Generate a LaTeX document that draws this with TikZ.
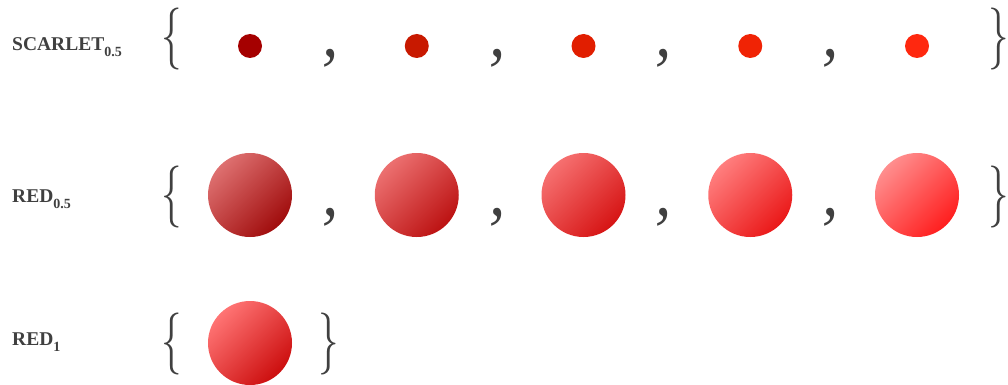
\documentclass[tikz,border=0pt]{standalone}
\usepackage{fontspec}
\usepackage{tikz}
\usetikzlibrary{positioning}
\newfontfamily\labelfont{Liberation Serif}
\definecolor{ink}{RGB}{64,64,64}
% small scarlet dots
\definecolor{scarA}{RGB}{165,0,0}
\definecolor{scarB}{RGB}{200,25,0}
\definecolor{scarC}{RGB}{225,30,0}
\definecolor{scarD}{RGB}{240,35,5}
\definecolor{scarE}{RGB}{255,40,15}
% red balls: light (top left) / dark (bottom right)
\definecolor{redAl}{RGB}{222,112,112}\definecolor{redAd}{RGB}{160,12,12}
\definecolor{redBl}{RGB}{236,112,112}\definecolor{redBd}{RGB}{188,18,18}
\definecolor{redCl}{RGB}{246,112,112}\definecolor{redCd}{RGB}{214,20,20}
\definecolor{redDl}{RGB}{255,126,126}\definecolor{redDd}{RGB}{234,24,24}
\definecolor{redEl}{RGB}{255,142,142}\definecolor{redEd}{RGB}{255,30,30}
\definecolor{redFl}{RGB}{255,116,116}\definecolor{redFd}{RGB}{204,14,14}

\begin{document}
\begin{tikzpicture}[
  x=1pt, y=-1pt,
  setname/.style={anchor=base west, inner sep=0pt, text=ink,
    font=\labelfont\fontsize{19.5}{19.5}\selectfont\bfseries},
  brace/.style={inner sep=0pt, text=ink},
  sep/.style={inner sep=0pt, text=ink},
  dot/.style={circle, minimum size=24pt, inner sep=0pt},
  ball/.style={circle, minimum size=84pt, inner sep=0pt},
]
  \useasboundingbox (0,0) rectangle (1008,385);
  \def\step{166.75}
  \newcommand{\setsub}[1]{\raisebox{-6pt}{\fontsize{14}{14}\selectfont #1}}
  \newcommand{\bigbrace}[1]{\scalebox{4.1}[6.2]{$#1$}}
  \newcommand{\bigcomma}{\scalebox{6.5}[7]{\labelfont\itshape ,}}
  % Labels
  \node[setname] (Lscar) at (12,51)  {SCARLET\setsub{0.5}};
  \node[setname] (Lred)  at (12,202) {RED\setsub{0.5}};
  \node[setname] (Lone)  at (12,345) {RED\setsub{1}};
  % Row 1: scarlet dots
  \node[brace] (S-open) at (172,39) {\bigbrace{\{}};
  \foreach \i/\c in {0/scarA,1/scarB,2/scarC,3/scarD,4/scarE}
    \node[dot, fill=\c] (S\i) at ({250+\step*\i}, 46) {};
  \foreach \i in {0,...,3}
    \node[sep] (Sc\i) at ({331+166.5*\i}, 58) {\bigcomma};
  \node[brace] (S-close) at (999,39) {\bigbrace{\}}};
  % Row 2: red balls
  \node[brace] (R-open) at (172,197) {\bigbrace{\{}};
  \foreach \i/\c in {0/redA,1/redB,2/redC,3/redD,4/redE}
    \node[ball, top color=\c l, bottom color=\c d, shading angle=45] (R\i) at ({250+\step*\i}, 195) {};
  \foreach \i in {0,...,3}
    \node[sep] (Rc\i) at ({331+166.5*\i}, 217) {\bigcomma};
  \node[brace] (R-close) at (999,197) {\bigbrace{\}}};
  % Row 3: one red ball
  \node[brace] (O-open) at (172,344) {\bigbrace{\{}};
  \node[ball, top color=redFl, bottom color=redFd, shading angle=45] (O0) at (250,343) {};
  \node[brace] (O-close) at (329,344) {\bigbrace{\}}};
\end{tikzpicture}
\end{document}
